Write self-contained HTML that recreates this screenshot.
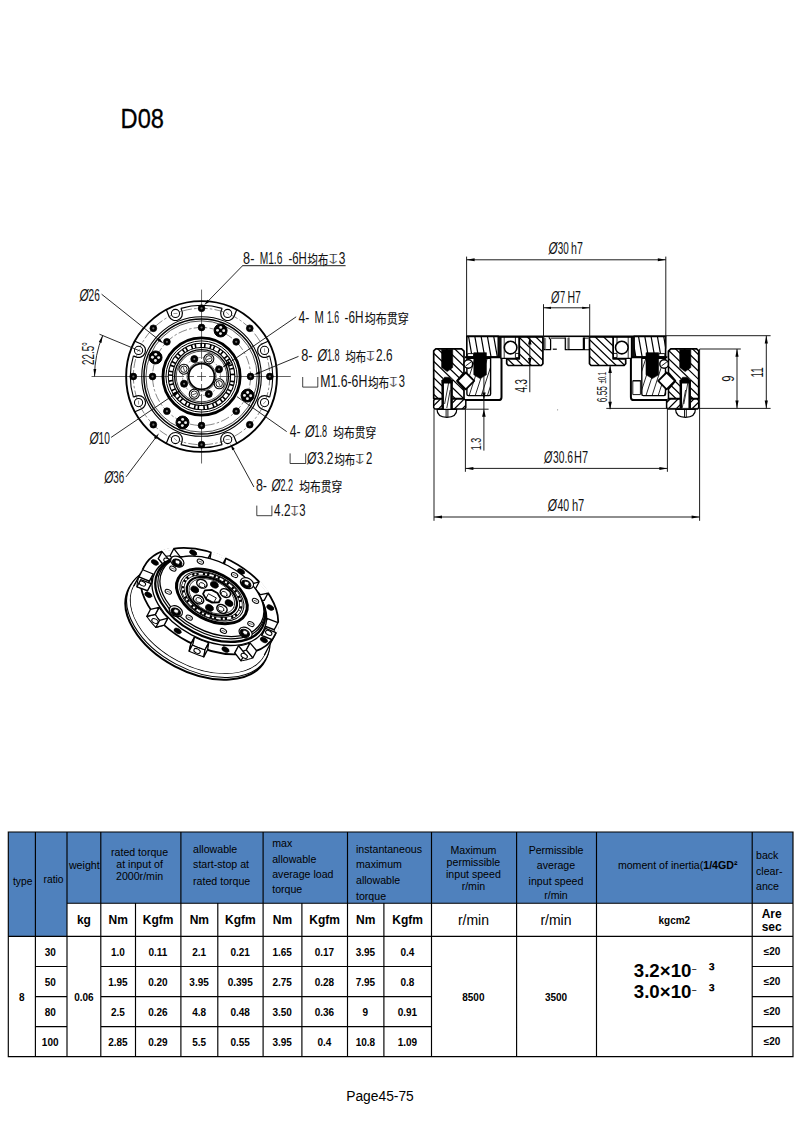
<!DOCTYPE html>
<html lang="en">
<head>
<meta charset="utf-8">
<title>D08</title>
<style>
html, body { margin: 0; padding: 0; background: #fff; }
body { width: 794px; height: 1123px; overflow: hidden; font-family: "Liberation Sans", "Noto Sans CJK SC", sans-serif; }
svg { display: block; position: absolute; left: 0; top: 0; }
</style>
</head>
<body>
<svg width="794" height="1123" viewBox="0 0 794 1123">
<g font-family="'Liberation Sans', 'Noto Sans CJK SC', sans-serif" fill="#000">
<text x="120.6" y="128.3" font-size="27.4" stroke="#000" stroke-width="0.3" textLength="43.4" lengthAdjust="spacingAndGlyphs">D08</text>
<text x="346.2" y="1101.4" font-size="14" textLength="67.6" lengthAdjust="spacingAndGlyphs">Page45-75</text>
</g>
<path d="M8.3 832.0H793.0V903.2H67.0V936.4H8.3Z" fill="#4f81bd"/>
<path d="M7.700000000000001 832.0H793.6 M7.700000000000001 1056.6H793.6 M8.3 832.0V1056.6 M793.0 832.0V1056.6 M67.0 903.2H793.0 M8.3 936.4H793.0 M35.4 832.0V1056.6 M67.0 832.0V1056.6 M100.8 832.0V1056.6 M180.9 832.0V1056.6 M263.1 832.0V1056.6 M347.5 832.0V1056.6 M431.5 832.0V1056.6 M516.6 832.0V1056.6 M596.5 832.0V1056.6 M752.2 832.0V1056.6 M135.5 903.2V1056.6 M217.8 903.2V1056.6 M301.9 903.2V1056.6 M383.9 903.2V1056.6 M35.4 966.5H67.0 M100.8 966.5H431.5 M752.2 966.5H793.0 M35.4 996.6H67.0 M100.8 996.6H431.5 M752.2 996.6H793.0 M35.4 1026.6H67.0 M100.8 1026.6H431.5 M752.2 1026.6H793.0" stroke="#000" stroke-width="1.15" fill="none"/>
<g font-family="'Liberation Sans', Arial, sans-serif" fill="#000">
<text x="22.7" y="884.7" font-size="10.25" font-weight="normal" text-anchor="middle" >type</text>
<text x="53.6" y="883.0" font-size="10.25" font-weight="normal" text-anchor="middle" >ratio</text>
<text x="84.3" y="868.6" font-size="10.67" font-weight="normal" text-anchor="middle" >weight</text>
<text x="139.6" y="855.6" font-size="10.6" font-weight="normal" text-anchor="middle" >rated torque</text>
<text x="139.6" y="868.0" font-size="10.6" font-weight="normal" text-anchor="middle" >at input of</text>
<text x="139.6" y="879.7" font-size="10.6" font-weight="normal" text-anchor="middle" >2000r/min</text>
<text x="193.1" y="852.7" font-size="10.6" font-weight="normal" text-anchor="start" >allowable</text>
<text x="193.1" y="867.9" font-size="10.6" font-weight="normal" text-anchor="start" >start-stop at</text>
<text x="193.1" y="885.0" font-size="10.6" font-weight="normal" text-anchor="start" >rated torque</text>
<text x="272.2" y="847.0" font-size="10.6" font-weight="normal" text-anchor="start" >max</text>
<text x="272.2" y="862.6" font-size="10.6" font-weight="normal" text-anchor="start" >allowable</text>
<text x="272.2" y="877.9" font-size="10.6" font-weight="normal" text-anchor="start" >average load</text>
<text x="272.2" y="892.6" font-size="10.6" font-weight="normal" text-anchor="start" >torque</text>
<text x="356.0" y="852.7" font-size="10.6" font-weight="normal" text-anchor="start" >instantaneous</text>
<text x="356.0" y="867.9" font-size="10.6" font-weight="normal" text-anchor="start" >maximum</text>
<text x="356.0" y="883.7" font-size="10.6" font-weight="normal" text-anchor="start" >allowable</text>
<text x="356.0" y="900.0" font-size="10.6" font-weight="normal" text-anchor="start" >torque</text>
<text x="473.4" y="854.0" font-size="10.6" font-weight="normal" text-anchor="middle" >Maximum</text>
<text x="473.4" y="866.0" font-size="10.6" font-weight="normal" text-anchor="middle" >permissible</text>
<text x="473.4" y="877.9" font-size="10.6" font-weight="normal" text-anchor="middle" >input speed</text>
<text x="473.4" y="889.8" font-size="10.6" font-weight="normal" text-anchor="middle" >r/min</text>
<text x="556.0" y="854.0" font-size="10.6" font-weight="normal" text-anchor="middle" >Permissible</text>
<text x="556.0" y="869.2" font-size="10.6" font-weight="normal" text-anchor="middle" >average</text>
<text x="556.0" y="885.0" font-size="10.6" font-weight="normal" text-anchor="middle" >input speed</text>
<text x="556.0" y="899.3" font-size="10.6" font-weight="normal" text-anchor="middle" >r/min</text>
<text x="617.9" y="868.6" font-size="10.6" text-anchor="start">moment of inertia(<tspan font-weight="bold">1/4GD²</tspan></text>
<text x="756.0" y="859.0" font-size="10.6" font-weight="normal" text-anchor="start" >back</text>
<text x="756.0" y="874.7" font-size="10.6" font-weight="normal" text-anchor="start" >clear-</text>
<text x="756.0" y="889.8" font-size="10.6" font-weight="normal" text-anchor="start" >ance</text>
<text x="83.9" y="924.0" font-size="12" font-weight="bold" text-anchor="middle" >kg</text>
<text x="118.15" y="924.0" font-size="12" font-weight="bold" text-anchor="middle" >Nm</text>
<text x="158.2" y="924.0" font-size="12" font-weight="bold" text-anchor="middle" >Kgfm</text>
<text x="199.35000000000002" y="924.0" font-size="12" font-weight="bold" text-anchor="middle" >Nm</text>
<text x="240.45000000000002" y="924.0" font-size="12" font-weight="bold" text-anchor="middle" >Kgfm</text>
<text x="282.5" y="924.0" font-size="12" font-weight="bold" text-anchor="middle" >Nm</text>
<text x="324.7" y="924.0" font-size="12" font-weight="bold" text-anchor="middle" >Kgfm</text>
<text x="365.7" y="924.0" font-size="12" font-weight="bold" text-anchor="middle" >Nm</text>
<text x="407.7" y="924.0" font-size="12" font-weight="bold" text-anchor="middle" >Kgfm</text>
<text x="473.45" y="924.6" font-size="14" font-weight="normal" text-anchor="middle" >r/min</text>
<text x="555.9499999999999" y="924.6" font-size="14" font-weight="normal" text-anchor="middle" >r/min</text>
<text x="674.35" y="923.8" font-size="10" font-weight="bold" text-anchor="middle" >kgcm2</text>
<text x="771.7" y="918.4" font-size="12" font-weight="bold" text-anchor="middle" >Are</text>
<text x="771.7" y="931.2" font-size="12" font-weight="bold" text-anchor="middle" >sec</text>
<text x="50.2" y="955.6" font-size="10" font-weight="bold" text-anchor="middle" >30</text>
<text x="117.9" y="955.6" font-size="10" font-weight="bold" text-anchor="middle" >1.0</text>
<text x="157.9" y="955.6" font-size="10" font-weight="bold" text-anchor="middle" >0.11</text>
<text x="199.1" y="955.6" font-size="10" font-weight="bold" text-anchor="middle" >2.1</text>
<text x="240.2" y="955.6" font-size="10" font-weight="bold" text-anchor="middle" >0.21</text>
<text x="282.2" y="955.6" font-size="10" font-weight="bold" text-anchor="middle" >1.65</text>
<text x="324.4" y="955.6" font-size="10" font-weight="bold" text-anchor="middle" >0.17</text>
<text x="365.4" y="955.6" font-size="10" font-weight="bold" text-anchor="middle" >3.95</text>
<text x="407.4" y="955.6" font-size="10" font-weight="bold" text-anchor="middle" >0.4</text>
<text x="772.1" y="954.7" font-size="10" font-weight="bold" text-anchor="middle" >≤20</text>
<text x="50.2" y="985.6" font-size="10" font-weight="bold" text-anchor="middle" >50</text>
<text x="117.9" y="985.6" font-size="10" font-weight="bold" text-anchor="middle" >1.95</text>
<text x="157.9" y="985.6" font-size="10" font-weight="bold" text-anchor="middle" >0.20</text>
<text x="199.1" y="985.6" font-size="10" font-weight="bold" text-anchor="middle" >3.95</text>
<text x="240.2" y="985.6" font-size="10" font-weight="bold" text-anchor="middle" >0.395</text>
<text x="282.2" y="985.6" font-size="10" font-weight="bold" text-anchor="middle" >2.75</text>
<text x="324.4" y="985.6" font-size="10" font-weight="bold" text-anchor="middle" >0.28</text>
<text x="365.4" y="985.6" font-size="10" font-weight="bold" text-anchor="middle" >7.95</text>
<text x="407.4" y="985.6" font-size="10" font-weight="bold" text-anchor="middle" >0.8</text>
<text x="772.1" y="984.8" font-size="10" font-weight="bold" text-anchor="middle" >≤20</text>
<text x="50.2" y="1015.7" font-size="10" font-weight="bold" text-anchor="middle" >80</text>
<text x="117.9" y="1015.7" font-size="10" font-weight="bold" text-anchor="middle" >2.5</text>
<text x="157.9" y="1015.7" font-size="10" font-weight="bold" text-anchor="middle" >0.26</text>
<text x="199.1" y="1015.7" font-size="10" font-weight="bold" text-anchor="middle" >4.8</text>
<text x="240.2" y="1015.7" font-size="10" font-weight="bold" text-anchor="middle" >0.48</text>
<text x="282.2" y="1015.7" font-size="10" font-weight="bold" text-anchor="middle" >3.50</text>
<text x="324.4" y="1015.7" font-size="10" font-weight="bold" text-anchor="middle" >0.36</text>
<text x="365.4" y="1015.7" font-size="10" font-weight="bold" text-anchor="middle" >9</text>
<text x="407.4" y="1015.7" font-size="10" font-weight="bold" text-anchor="middle" >0.91</text>
<text x="772.1" y="1014.8" font-size="10" font-weight="bold" text-anchor="middle" >≤20</text>
<text x="50.2" y="1045.7" font-size="10" font-weight="bold" text-anchor="middle" >100</text>
<text x="117.9" y="1045.7" font-size="10" font-weight="bold" text-anchor="middle" >2.85</text>
<text x="157.9" y="1045.7" font-size="10" font-weight="bold" text-anchor="middle" >0.29</text>
<text x="199.1" y="1045.7" font-size="10" font-weight="bold" text-anchor="middle" >5.5</text>
<text x="240.2" y="1045.7" font-size="10" font-weight="bold" text-anchor="middle" >0.55</text>
<text x="282.2" y="1045.7" font-size="10" font-weight="bold" text-anchor="middle" >3.95</text>
<text x="324.4" y="1045.7" font-size="10" font-weight="bold" text-anchor="middle" >0.4</text>
<text x="365.4" y="1045.7" font-size="10" font-weight="bold" text-anchor="middle" >10.8</text>
<text x="407.4" y="1045.7" font-size="10" font-weight="bold" text-anchor="middle" >1.09</text>
<text x="772.1" y="1044.8" font-size="10" font-weight="bold" text-anchor="middle" >≤20</text>
<text x="21.85" y="1000.6" font-size="10" font-weight="bold" text-anchor="middle" >8</text>
<text x="83.9" y="1000.6" font-size="10" font-weight="bold" text-anchor="middle" >0.06</text>
<text x="473.35" y="1000.6" font-size="10" font-weight="bold" text-anchor="middle" >8500</text>
<text x="556.05" y="1000.6" font-size="10" font-weight="bold" text-anchor="middle" >3500</text>
<text x="633.8" y="977.2" font-size="18.67" font-weight="bold" text-anchor="start">3.2×10<tspan x="691.2" dy="-2.2" font-family="'DejaVu Sans', sans-serif" font-size="11">⁻</tspan><tspan dy="2.2" font-size="1"> </tspan><tspan x="708.6">³</tspan></text>
<text x="633.8" y="998.3" font-size="18.67" font-weight="bold" text-anchor="start">3.0×10<tspan x="691.2" dy="-2.2" font-family="'DejaVu Sans', sans-serif" font-size="11">⁻</tspan><tspan dy="2.2" font-size="1"> </tspan><tspan x="708.6">³</tspan></text>
</g>
<g stroke="#000" fill="none" stroke-linecap="butt">
<path d="M91.55 376.5H184.05M187.05 376.5H194.05M197.05 376.5H206.05M209.05 376.5H216.05M219.05 376.5H290.75" stroke="#222" stroke-width="0.7"/>
<path d="M201.55 289.6V359M201.55 362V369M201.55 372V381M201.55 384V391M201.55 394V463.5" stroke="#222" stroke-width="0.7"/>
<circle cx="201.55" cy="376.5" r="75.4" stroke-width="1.9" fill="none" />
<path d="M269.69 397.15A71.2 71.2 0 0 0 269.69 355.85 M222.2 308.36A71.2 71.2 0 0 0 180.9 308.36 M133.41 355.85A71.2 71.2 0 0 0 133.41 397.15 M180.9 444.64A71.2 71.2 0 0 0 222.2 444.64" stroke-width="1.1"/>
<path d="M269.69 355.85L267.24 356.87A7 7 0 0 1 261.88 343.93L268.23 341.3" stroke-width="1.2"/>
<path d="M236.75 309.82L234.12 316.17A7 7 0 0 1 221.18 310.81L222.2 308.36" stroke-width="1.2"/>
<path d="M180.9 308.36L181.92 310.81A7 7 0 0 1 168.98 316.17L166.35 309.82" stroke-width="1.2"/>
<path d="M134.87 341.3L141.22 343.93A7 7 0 0 1 135.86 356.87L133.41 355.85" stroke-width="1.2"/>
<path d="M133.41 397.15L135.86 396.13A7 7 0 0 1 141.22 409.07L134.87 411.7" stroke-width="1.2"/>
<path d="M166.35 443.18L168.98 436.83A7 7 0 0 1 181.92 442.19L180.9 444.64" stroke-width="1.2"/>
<path d="M222.2 444.64L221.18 442.19A7 7 0 0 1 234.12 436.83L236.75 443.18" stroke-width="1.2"/>
<path d="M268.23 411.7L261.88 409.07A7 7 0 0 1 267.24 396.13L269.69 397.15" stroke-width="1.2"/>
<circle cx="201.55" cy="376.5" r="68.2" stroke-width="0.55" fill="none" stroke-dasharray="9 2.2 2.5 2.2" stroke="#222"/>
<circle cx="201.55" cy="376.5" r="59.8" stroke-width="1.1" fill="none" />
<circle cx="201.55" cy="376.5" r="57.6" stroke-width="1.5" fill="none" />
<circle cx="201.55" cy="376.5" r="55.6" stroke-width="0.7" fill="none" />
<circle cx="201.55" cy="376.5" r="49" stroke-width="0.55" fill="none" stroke-dasharray="9 2.2 2.5 2.2" stroke="#222"/>
<circle cx="201.55" cy="376.5" r="38.6" stroke-width="2.8" fill="none" />
<circle cx="201.55" cy="376.5" r="35.6" stroke-width="1.0" fill="none" />
<circle cx="201.55" cy="376.5" r="31.1" stroke-width="5.4" fill="none" />
<circle cx="201.55" cy="376.5" r="31.1" stroke-width="3.2" fill="none" stroke="#fff" stroke-dasharray="4.2 1.6 2 1.6"/>
<circle cx="201.55" cy="376.5" r="26.9" stroke-width="1.4" fill="none" />
<circle cx="201.55" cy="376.5" r="25.3" stroke-width="0.7" fill="none" />
<circle cx="201.55" cy="376.5" r="19" stroke-width="0.5" fill="none" stroke-dasharray="3 2" stroke="#333"/>
<circle cx="201.55" cy="376.5" r="12.9" stroke-width="1.8" fill="none" />
<circle cx="201.55" cy="376.5" r="14.6" stroke-width="0.7" fill="none" />
<circle cx="208.86" cy="358.85" r="5" stroke-width="1.1" fill="#fff" />
<circle cx="208.86" cy="358.85" r="3.2" stroke-width="0.9" fill="#fff" />
<path d="M206.79 359.61L210.93 358.1" stroke-width="0.7" />
<circle cx="194.32" cy="359.04" r="3.5" stroke-width="0.9" fill="#000" />
<circle cx="194.32" cy="359.04" r="1" stroke-width="0" fill="#777" stroke="none"/>
<circle cx="183.9" cy="369.19" r="5" stroke-width="1.1" fill="#fff" />
<circle cx="183.9" cy="369.19" r="3.2" stroke-width="0.9" fill="#fff" />
<path d="M184.66 371.26L183.15 367.12" stroke-width="0.7" />
<circle cx="184.09" cy="383.73" r="3.5" stroke-width="0.9" fill="#000" />
<circle cx="184.09" cy="383.73" r="1" stroke-width="0" fill="#777" stroke="none"/>
<circle cx="194.24" cy="394.15" r="5" stroke-width="1.1" fill="#fff" />
<circle cx="194.24" cy="394.15" r="3.2" stroke-width="0.9" fill="#fff" />
<path d="M196.31 393.39L192.17 394.9" stroke-width="0.7" />
<circle cx="208.78" cy="393.96" r="3.5" stroke-width="0.9" fill="#000" />
<circle cx="208.78" cy="393.96" r="1" stroke-width="0" fill="#777" stroke="none"/>
<circle cx="219.2" cy="383.81" r="5" stroke-width="1.1" fill="#fff" />
<circle cx="219.2" cy="383.81" r="3.2" stroke-width="0.9" fill="#fff" />
<path d="M218.44 381.74L219.95 385.88" stroke-width="0.7" />
<circle cx="219.01" cy="369.27" r="3.5" stroke-width="0.9" fill="#000" />
<circle cx="219.01" cy="369.27" r="1" stroke-width="0" fill="#777" stroke="none"/>
<circle cx="250.55" cy="376.5" r="3.4" stroke-width="0.7" fill="#000" />
<circle cx="250.55" cy="376.5" r="1.1" stroke-width="0" fill="#6a6a6a" stroke="none"/>
<circle cx="236.2" cy="341.85" r="3.4" stroke-width="0.7" fill="#000" />
<circle cx="236.2" cy="341.85" r="1.1" stroke-width="0" fill="#6a6a6a" stroke="none"/>
<circle cx="201.55" cy="327.5" r="3.4" stroke-width="0.7" fill="#000" />
<circle cx="201.55" cy="327.5" r="1.1" stroke-width="0" fill="#6a6a6a" stroke="none"/>
<circle cx="166.9" cy="341.85" r="3.4" stroke-width="0.7" fill="#000" />
<circle cx="166.9" cy="341.85" r="1.1" stroke-width="0" fill="#6a6a6a" stroke="none"/>
<circle cx="152.55" cy="376.5" r="3.4" stroke-width="0.7" fill="#000" />
<circle cx="152.55" cy="376.5" r="1.1" stroke-width="0" fill="#6a6a6a" stroke="none"/>
<circle cx="166.9" cy="411.15" r="3.4" stroke-width="0.7" fill="#000" />
<circle cx="166.9" cy="411.15" r="1.1" stroke-width="0" fill="#6a6a6a" stroke="none"/>
<circle cx="201.55" cy="425.5" r="3.4" stroke-width="0.7" fill="#000" />
<circle cx="201.55" cy="425.5" r="1.1" stroke-width="0" fill="#6a6a6a" stroke="none"/>
<circle cx="236.2" cy="411.15" r="3.4" stroke-width="0.7" fill="#000" />
<circle cx="236.2" cy="411.15" r="1.1" stroke-width="0" fill="#6a6a6a" stroke="none"/>
<circle cx="269.75" cy="376.5" r="3.4" stroke-width="0.7" fill="#000" />
<circle cx="269.75" cy="376.5" r="1.1" stroke-width="0" fill="#6a6a6a" stroke="none"/>
<circle cx="249.77" cy="328.28" r="3.4" stroke-width="0.7" fill="#000" />
<circle cx="249.77" cy="328.28" r="1.1" stroke-width="0" fill="#6a6a6a" stroke="none"/>
<circle cx="201.55" cy="308.3" r="3.4" stroke-width="0.7" fill="#000" />
<circle cx="201.55" cy="308.3" r="1.1" stroke-width="0" fill="#6a6a6a" stroke="none"/>
<circle cx="153.33" cy="328.28" r="3.4" stroke-width="0.7" fill="#000" />
<circle cx="153.33" cy="328.28" r="1.1" stroke-width="0" fill="#6a6a6a" stroke="none"/>
<circle cx="133.35" cy="376.5" r="3.4" stroke-width="0.7" fill="#000" />
<circle cx="133.35" cy="376.5" r="1.1" stroke-width="0" fill="#6a6a6a" stroke="none"/>
<circle cx="153.33" cy="424.72" r="3.4" stroke-width="0.7" fill="#000" />
<circle cx="153.33" cy="424.72" r="1.1" stroke-width="0" fill="#6a6a6a" stroke="none"/>
<circle cx="201.55" cy="444.7" r="3.4" stroke-width="0.7" fill="#000" />
<circle cx="201.55" cy="444.7" r="1.1" stroke-width="0" fill="#6a6a6a" stroke="none"/>
<circle cx="249.77" cy="424.72" r="3.4" stroke-width="0.7" fill="#000" />
<circle cx="249.77" cy="424.72" r="1.1" stroke-width="0" fill="#6a6a6a" stroke="none"/>
<circle cx="264.56" cy="350.4" r="4.1" stroke-width="1.05" fill="#fff" />
<path d="M264.65 352.4L264.47 348.4" stroke-width="0.5" stroke="#333"/>
<circle cx="227.65" cy="313.49" r="4.1" stroke-width="1.05" fill="#fff" />
<path d="M229.12 314.84L226.17 312.14" stroke-width="0.5" stroke="#333"/>
<circle cx="175.45" cy="313.49" r="4.1" stroke-width="1.05" fill="#fff" />
<path d="M177.45 313.4L173.45 313.58" stroke-width="0.5" stroke="#333"/>
<circle cx="138.54" cy="350.4" r="4.1" stroke-width="1.05" fill="#fff" />
<path d="M139.89 348.93L137.19 351.88" stroke-width="0.5" stroke="#333"/>
<circle cx="138.54" cy="402.6" r="4.1" stroke-width="1.05" fill="#fff" />
<path d="M138.45 400.6L138.63 404.6" stroke-width="0.5" stroke="#333"/>
<circle cx="175.45" cy="439.51" r="4.1" stroke-width="1.05" fill="#fff" />
<path d="M173.98 438.16L176.93 440.86" stroke-width="0.5" stroke="#333"/>
<circle cx="227.65" cy="439.51" r="4.1" stroke-width="1.05" fill="#fff" />
<path d="M225.65 439.6L229.65 439.42" stroke-width="0.5" stroke="#333"/>
<circle cx="264.56" cy="402.6" r="4.1" stroke-width="1.05" fill="#fff" />
<path d="M263.21 404.07L265.91 401.12" stroke-width="0.5" stroke="#333"/>
<circle cx="220.61" cy="330.49" r="6.5" stroke-width="1.0" fill="#000" />
<circle cx="220.74" cy="327.39" r="1.45" stroke-width="0" fill="#eee" stroke="none"/>
<circle cx="217.51" cy="330.36" r="1.45" stroke-width="0" fill="#eee" stroke="none"/>
<circle cx="220.47" cy="333.59" r="1.45" stroke-width="0" fill="#eee" stroke="none"/>
<circle cx="223.7" cy="330.63" r="1.45" stroke-width="0" fill="#eee" stroke="none"/>
<circle cx="155.54" cy="357.44" r="6.5" stroke-width="1.0" fill="#000" />
<circle cx="152.44" cy="357.31" r="1.45" stroke-width="0" fill="#eee" stroke="none"/>
<circle cx="155.41" cy="360.54" r="1.45" stroke-width="0" fill="#eee" stroke="none"/>
<circle cx="158.64" cy="357.58" r="1.45" stroke-width="0" fill="#eee" stroke="none"/>
<circle cx="155.68" cy="354.35" r="1.45" stroke-width="0" fill="#eee" stroke="none"/>
<circle cx="182.49" cy="422.51" r="6.5" stroke-width="1.0" fill="#000" />
<circle cx="182.36" cy="425.61" r="1.45" stroke-width="0" fill="#eee" stroke="none"/>
<circle cx="185.59" cy="422.64" r="1.45" stroke-width="0" fill="#eee" stroke="none"/>
<circle cx="182.63" cy="419.41" r="1.45" stroke-width="0" fill="#eee" stroke="none"/>
<circle cx="179.4" cy="422.37" r="1.45" stroke-width="0" fill="#eee" stroke="none"/>
<circle cx="247.56" cy="395.56" r="6.5" stroke-width="1.0" fill="#000" />
<circle cx="250.66" cy="395.69" r="1.45" stroke-width="0" fill="#eee" stroke="none"/>
<circle cx="247.69" cy="392.46" r="1.45" stroke-width="0" fill="#eee" stroke="none"/>
<circle cx="244.46" cy="395.42" r="1.45" stroke-width="0" fill="#eee" stroke="none"/>
<circle cx="247.42" cy="398.65" r="1.45" stroke-width="0" fill="#eee" stroke="none"/>
<g stroke="#111" stroke-width="0.9">
<path d="M206.81 302.42L242.6 265.7" stroke-width="0.9" /><path d="M204.3 305L209.49 301.68L207.48 299.73Z" fill="#000" stroke="none"/>
<path d="M242.3 265.7L345.6 265.7" stroke-width="0.95" />
<path d="M160.55 341.17L101.6 294.2" stroke-width="0.9" /><path d="M163.6 343.6L159.39 338.45L157.64 340.64Z" fill="#000" stroke="none"/>
<path d="M140.57 351.24L99.46 334.21" stroke-width="0.9" />
<path d="M102.69 335.55A107 107 0 0 0 94.55 376.5" stroke-width="0.9"/>
<path d="M102.69 335.55L98.81 342.12L101.45 343.08Z" fill="#000" stroke="none"/>
<path d="M94.55 376.5L96.28 369.07L93.48 368.95Z" fill="#000" stroke="none"/>
<path d="M226.7 364.48L296.2 316.8" stroke-width="0.9" /><path d="M222 367.7L230.91 363.89L228.76 360.76Z" fill="#000" stroke="none"/>
<path d="M257.4 373.41L298.5 356.4" stroke-width="0.9" /><path d="M253.8 374.9L260.34 373.71L259.27 371.12Z" fill="#000" stroke="none"/>
<path d="M236.9 396.6L286.7 431.6" stroke-width="0.9" />
<path d="M232.27 447.32L253.9 487" stroke-width="0.9" /><path d="M230.4 443.9L232.28 450.28L234.74 448.94Z" fill="#000" stroke="none"/>
<path d="M176.28 393.2L111.1 437.4" stroke-width="0.9" /><path d="M181 390L172.07 393.76L174.2 396.9Z" fill="#000" stroke="none"/>
<path d="M156.65 436.41L126 476.9" stroke-width="0.9" /><path d="M159 433.3L153.96 437.64L156.19 439.33Z" fill="#000" stroke="none"/>
</g>
</g>
<g fill="#111">
<text x="243.1" y="263.9" font-family="'Liberation Sans', sans-serif" font-size="15.6" textLength="11.3" lengthAdjust="spacingAndGlyphs" >8-</text>
<text x="259.7" y="263.9" font-family="'Liberation Sans', sans-serif" font-size="15.6" textLength="22.7" lengthAdjust="spacingAndGlyphs" >M1.6</text>
<text x="288.4" y="263.9" font-family="'Liberation Sans', sans-serif" font-size="15.6" textLength="18.4" lengthAdjust="spacingAndGlyphs" >-6H</text>
<text x="307.6" y="263.8" font-family="'Liberation Sans', 'Noto Sans CJK SC', sans-serif" font-size="12.9" textLength="20.6" lengthAdjust="spacingAndGlyphs" stroke="#111" stroke-width="0.15">均布</text>
<text transform="translate(325.32 263.9) scale(1.9 1.39)" font-family="'DejaVu Sans', 'Liberation Sans', sans-serif" font-size="10" fill="#222" stroke="#fff" stroke-width="0.28">↧</text>
<text x="338.8" y="263.9" font-family="'Liberation Sans', sans-serif" font-size="15.6" textLength="6.6" lengthAdjust="spacingAndGlyphs" >3</text>
<text x="298.5" y="322.6" font-family="'Liberation Sans', sans-serif" font-size="15.6" textLength="10.8" lengthAdjust="spacingAndGlyphs" >4-</text>
<text x="314.4" y="322.6" font-family="'Liberation Sans', sans-serif" font-size="15.6" textLength="9.3" lengthAdjust="spacingAndGlyphs" >M</text>
<text x="327" y="322.6" font-family="'Liberation Sans', sans-serif" font-size="15.6" textLength="12.1" lengthAdjust="spacingAndGlyphs" >1.6</text>
<text x="344.6" y="322.6" font-family="'Liberation Sans', sans-serif" font-size="15.6" textLength="18.9" lengthAdjust="spacingAndGlyphs" >-6H</text>
<text x="364.8" y="322.5" font-family="'Liberation Sans', 'Noto Sans CJK SC', sans-serif" font-size="12.9" textLength="44" lengthAdjust="spacingAndGlyphs" stroke="#111" stroke-width="0.15">均布贯穿</text>
<text x="301.3" y="360.9" font-family="'Liberation Sans', sans-serif" font-size="15.6" textLength="11.3" lengthAdjust="spacingAndGlyphs" >8-</text>
<text x="317.6" y="360.9" font-family="'Liberation Sans', sans-serif" font-size="15.6" textLength="9.6" lengthAdjust="spacingAndGlyphs" font-style="italic">Ø</text>
<text x="327" y="360.9" font-family="'Liberation Sans', sans-serif" font-size="15.6" textLength="12.6" lengthAdjust="spacingAndGlyphs" >1.8</text>
<text x="345.4" y="360.8" font-family="'Liberation Sans', 'Noto Sans CJK SC', sans-serif" font-size="12.9" textLength="20.6" lengthAdjust="spacingAndGlyphs" stroke="#111" stroke-width="0.15">均布</text>
<text transform="translate(362.79 360.9) scale(1.83 1.39)" font-family="'DejaVu Sans', 'Liberation Sans', sans-serif" font-size="10" fill="#222" stroke="#fff" stroke-width="0.28">↧</text>
<text x="376.1" y="360.9" font-family="'Liberation Sans', sans-serif" font-size="15.6" textLength="16.4" lengthAdjust="spacingAndGlyphs" >2.6</text>
<path d="M302.7 377V387.1H317.8V377" fill="none" stroke="#111" stroke-width="0.8"/>
<text x="320.2" y="387.4" font-family="'Liberation Sans', sans-serif" font-size="15.6" textLength="47.1" lengthAdjust="spacingAndGlyphs" >M1.6-6H</text>
<text x="368" y="387.3" font-family="'Liberation Sans', 'Noto Sans CJK SC', sans-serif" font-size="12.9" textLength="21.2" lengthAdjust="spacingAndGlyphs" stroke="#111" stroke-width="0.15">均布</text>
<text transform="translate(386.26 387.4) scale(1.7 1.39)" font-family="'DejaVu Sans', 'Liberation Sans', sans-serif" font-size="10" fill="#222" stroke="#fff" stroke-width="0.28">↧</text>
<text x="398.8" y="387.4" font-family="'Liberation Sans', sans-serif" font-size="15.6" textLength="6.2" lengthAdjust="spacingAndGlyphs" >3</text>
<text x="289.7" y="436.6" font-family="'Liberation Sans', sans-serif" font-size="15.6" textLength="10.8" lengthAdjust="spacingAndGlyphs" >4-</text>
<text x="305" y="436.6" font-family="'Liberation Sans', sans-serif" font-size="15.6" textLength="9.6" lengthAdjust="spacingAndGlyphs" font-style="italic">Ø</text>
<text x="314.4" y="436.6" font-family="'Liberation Sans', sans-serif" font-size="15.6" textLength="12.6" lengthAdjust="spacingAndGlyphs" >1.8</text>
<text x="333.3" y="436.5" font-family="'Liberation Sans', 'Noto Sans CJK SC', sans-serif" font-size="12.9" textLength="42.8" lengthAdjust="spacingAndGlyphs" stroke="#111" stroke-width="0.15">均布贯穿</text>
<path d="M290.1 453.4V463.5H305.7V453.4" fill="none" stroke="#111" stroke-width="0.8"/>
<text x="307" y="463.8" font-family="'Liberation Sans', sans-serif" font-size="15.6" textLength="9.3" lengthAdjust="spacingAndGlyphs" font-style="italic">Ø</text>
<text x="316.9" y="463.8" font-family="'Liberation Sans', sans-serif" font-size="15.6" textLength="16.4" lengthAdjust="spacingAndGlyphs" >3.2</text>
<text x="334.5" y="463.7" font-family="'Liberation Sans', 'Noto Sans CJK SC', sans-serif" font-size="12.9" textLength="20.7" lengthAdjust="spacingAndGlyphs" stroke="#111" stroke-width="0.15">均布</text>
<text transform="translate(351.72 463.8) scale(1.9 1.39)" font-family="'DejaVu Sans', 'Liberation Sans', sans-serif" font-size="10" fill="#222" stroke="#fff" stroke-width="0.28">↧</text>
<text x="366" y="463.8" font-family="'Liberation Sans', sans-serif" font-size="15.6" textLength="6.3" lengthAdjust="spacingAndGlyphs" >2</text>
<text x="255.9" y="491.3" font-family="'Liberation Sans', sans-serif" font-size="15.6" textLength="11.1" lengthAdjust="spacingAndGlyphs" >8-</text>
<text x="271.5" y="491.3" font-family="'Liberation Sans', sans-serif" font-size="15.6" textLength="9.1" lengthAdjust="spacingAndGlyphs" font-style="italic">Ø</text>
<text x="280.4" y="491.3" font-family="'Liberation Sans', sans-serif" font-size="15.6" textLength="12.6" lengthAdjust="spacingAndGlyphs" >2.2</text>
<text x="299.3" y="491.2" font-family="'Liberation Sans', 'Noto Sans CJK SC', sans-serif" font-size="12.9" textLength="42.8" lengthAdjust="spacingAndGlyphs" stroke="#111" stroke-width="0.15">均布贯穿</text>
<path d="M256.8 505.6V515.7H271.9V505.6" fill="none" stroke="#111" stroke-width="0.8"/>
<text x="274.1" y="516" font-family="'Liberation Sans', sans-serif" font-size="15.6" textLength="16.4" lengthAdjust="spacingAndGlyphs" >4.2</text>
<text transform="translate(287.46 516) scale(1.7 1.39)" font-family="'DejaVu Sans', 'Liberation Sans', sans-serif" font-size="10" fill="#222" stroke="#fff" stroke-width="0.28">↧</text>
<text x="299.3" y="516" font-family="'Liberation Sans', sans-serif" font-size="15.6" textLength="6.3" lengthAdjust="spacingAndGlyphs" >3</text>
<text x="79.6" y="301" font-family="'Liberation Sans', sans-serif" font-size="15.6" textLength="9.2" lengthAdjust="spacingAndGlyphs" font-style="italic">Ø</text>
<text x="88.6" y="301" font-family="'Liberation Sans', sans-serif" font-size="15.6" textLength="11.2" lengthAdjust="spacingAndGlyphs" >26</text>
<text x="89.6" y="443.7" font-family="'Liberation Sans', sans-serif" font-size="15.6" textLength="9.2" lengthAdjust="spacingAndGlyphs" font-style="italic">Ø</text>
<text x="98.6" y="443.7" font-family="'Liberation Sans', sans-serif" font-size="15.6" textLength="11.3" lengthAdjust="spacingAndGlyphs" >10</text>
<text x="104.2" y="482.7" font-family="'Liberation Sans', sans-serif" font-size="15.6" textLength="9.2" lengthAdjust="spacingAndGlyphs" font-style="italic">Ø</text>
<text x="113.2" y="482.7" font-family="'Liberation Sans', sans-serif" font-size="15.6" textLength="11" lengthAdjust="spacingAndGlyphs" >36</text>
<g transform="translate(94.0 364.9) rotate(-90)"><text x="0" y="0" font-family="'Liberation Sans', sans-serif" font-size="15.6" textLength="22.9" lengthAdjust="spacingAndGlyphs" >22.5°</text></g>
</g>
<g stroke="#000" fill="none" stroke-linejoin="round">
<path d="M433.7 350.8L435.8 348.8L461.6 348.8L464 351.2L464 372.6L457 380.9L464 389.2L464 398.6L433.7 398.6Z" fill="#fff" stroke-width="0" />
<clipPath id="hc1"><path d="M433.7 350.8L435.8 348.8L461.6 348.8L464 351.2L464 372.6L457 380.9L464 389.2L464 398.6L433.7 398.6Z"/></clipPath><path d="M450.59 328.5L493.96 370.39M446.49 332.75L489.86 374.63M442.39 336.99L485.76 378.87M438.29 341.23L481.66 383.12M434.19 345.48L477.57 387.36M430.1 349.72L473.47 391.61M426 353.97L469.37 395.85M421.9 358.21L465.27 400.09M417.8 362.46L461.17 404.34M413.7 366.7L457.07 408.58M409.6 370.94L452.97 412.83M405.5 375.19L448.88 417.07" clip-path="url(#hc1)" stroke-width="1.25" fill="none"/>
<path d="M433.7 350.8L435.8 348.8L461.6 348.8L464 351.2L464 372.6L457 380.9L464 389.2L464 398.6L433.7 398.6Z" fill="none" stroke-width="1.7" />
<path d="M441.6 349.4L452.7 349.4L452.7 367.6L447.2 371.6L441.6 367.6Z" fill="#000" stroke-width="0.6" />
<path d="M433.7 400.4L435 399.1L464.5 399.1L465.8 400.4L465.8 407.8L464.5 409.1L435 409.1L433.7 407.8Z" fill="#fff" stroke-width="0" />
<clipPath id="hc2"><path d="M433.7 400.4L435 399.1L464.5 399.1L465.8 400.4L465.8 407.8L464.5 409.1L435 409.1L433.7 407.8Z"/></clipPath><path d="M422.05 401.59L447.24 376.4M426.01 405.55L451.2 380.36M429.97 409.51L455.16 384.32M433.93 413.47L459.12 388.28M437.89 417.43L463.08 392.24M441.85 421.39L467.04 396.2M445.81 425.35L471 400.16M449.77 429.31L474.96 404.12" clip-path="url(#hc2)" stroke-width="1.25" fill="none"/>
<path d="M433.7 400.4L435 399.1L464.5 399.1L465.8 400.4L465.8 407.8L464.5 409.1L435 409.1L433.7 407.8Z" fill="none" stroke-width="1.5" />
<path d="M442 409.1L442 379.5L444.5 377.2L449.8 377.2L452.3 379.5L452.3 409.1Z" fill="#fff" stroke-width="0" />
<path d="M442 380.2L444.5 377.2L449.8 377.2L452.3 380.2L452.3 383.2L442 383.2Z" fill="#000" stroke-width="0.5" />
<path d="M442.7 409.1L442.7 380" fill="none" stroke-width="2.5" />
<path d="M451.6 409.1L451.6 380" fill="none" stroke-width="2.5" />
<path d="M444.6 404L448.6 383" stroke-width="0.8"/>
<path d="M446.8 408L450.2 390" stroke-width="0.8"/>
<path d="M437 409.3C437 415 440.46 417.3 446.9 417.3C453.33 417.3 456.8 415 456.8 409.3Z" fill="#fff" stroke-width="1.2"/>
<path d="M446.1 409.3L446.1 417" fill="none" stroke-width="0.9" />
<path d="M447.9 409.3L447.9 417" fill="none" stroke-width="0.9" />
<path d="M466.8 336.2L498.4 336.2L498.4 357L466.8 357Z" fill="#fff" stroke-width="0" />
<clipPath id="hc3"><path d="M466.8 336.2L498.4 336.2L498.4 357L466.8 357Z"/></clipPath><path d="M503.88 322.63L510.79 361.85M497.77 323.7L504.69 362.93M491.67 324.78L498.58 364M485.56 325.86L492.48 365.08M479.46 326.93L486.37 366.16M473.35 328.01L480.27 367.23M467.24 329.08L474.16 368.31M461.14 330.16L468.05 369.39M455.03 331.24L461.95 370.46" clip-path="url(#hc3)" stroke-width="1.2" fill="none"/>
<path d="M466.8 336.2L498.4 336.2L498.4 357L466.8 357Z" fill="none" stroke-width="1.6" />
<path d="M467.6 353.6L473.6 353.6L473.6 356.6L467.6 356.6Z" fill="#fff" stroke-width="0.9" />
<path d="M498.2 337L500.9 337L500.9 357.4L498.2 357.4Z" fill="#111" stroke-width="0.6" />
<path d="M465 357.3H501.5V397.2Q501.5 400.1 498.5 400.1H465" fill="#fff" stroke-width="2.0"/>
<clipPath id="hc4"><path d="M466.9 358.4H490.6V394.0Q490.6 395.6 489 395.6H468.5Q466.9 395.6 466.9 394.0Z"/></clipPath><path d="M446.31 390.7L460.56 346.85M451.83 392.49L466.08 348.64M457.34 394.29L471.59 350.43M462.86 396.08L477.11 352.23M468.38 397.87L482.62 354.02M473.89 399.66L488.14 355.81M479.41 401.45L493.66 357.6M484.92 403.25L499.17 359.4M490.44 405.04L504.69 361.19M495.96 406.83L510.2 362.98" clip-path="url(#hc4)" stroke-width="0.85" fill="none"/>
<path d="M466.9 358.4H490.6V394.0Q490.6 395.6 489 395.6H468.5Q466.9 395.6 466.9 394.0Z" fill="none" stroke-width="1.4"/>
<path d="M473.8 352.7L486.4 352.7L486.4 374.8L480.1 378.6L473.8 374.8Z" fill="#000" stroke-width="0.6" />
<path d="M457.4 380.9L465.8 372.5L474.2 380.9L465.8 389.3Z" fill="#fff" stroke-width="1.8" />
<circle cx="468.3" cy="364.0" r="4.3" fill="#fff" stroke-width="1.4"/>
<path d="M465.6 366L471 362" stroke-width="0.9"/>
<path d="M500.9 337L519.2 337L519.2 358.3L500.9 358.3Z" fill="#fff" stroke-width="1.3" />
<path d="M504.2 337L504.2 358.3" fill="none" stroke-width="0.8" />
<path d="M515.4 337L515.4 352.5" fill="none" stroke-width="0.9" />
<path d="M515.4 353.4L519.2 353.4L519.2 357.6L515.4 357.6Z" fill="none" stroke-width="0.9" />
<circle cx="510.6" cy="347.6" r="6.3" fill="#fff" stroke-width="1.6"/>
<path d="M506.7 358.8L519.3 358.8L519.3 337L542.9 337L542.9 363.7L541.3 365.5L508.3 365.5L506.7 363.7Z" fill="#fff" stroke-width="0" />
<clipPath id="hc5"><path d="M506.7 358.8L519.3 358.8L519.3 337L542.9 337L542.9 363.7L541.3 365.5L508.3 365.5L506.7 363.7Z"/></clipPath><path d="M528.15 313.18L562.73 346.57M524.05 317.42L558.63 350.82M519.95 321.67L554.53 355.06M515.85 325.91L550.43 359.31M511.76 330.16L546.34 363.55M507.66 334.4L542.24 367.79M503.56 338.65L538.14 372.04M499.46 342.89L534.04 376.28M495.36 347.13L529.94 380.53M491.26 351.38L525.84 384.77M487.16 355.62L521.74 389.02" clip-path="url(#hc5)" stroke-width="1.25" fill="none"/>
<path d="M506.7 358.8L519.3 358.8L519.3 337L542.9 337L542.9 363.7L541.3 365.5L508.3 365.5L506.7 363.7Z" fill="none" stroke-width="1.7" />
<path d="M698.7 350.8L696.6 348.8L670.8 348.8L668.4 351.2L668.4 372.6L675.4 380.9L668.4 389.2L668.4 398.6L698.7 398.6Z" fill="#fff" stroke-width="0" />
<clipPath id="hc6"><path d="M698.7 350.8L696.6 348.8L670.8 348.8L668.4 351.2L668.4 372.6L675.4 380.9L668.4 389.2L668.4 398.6L698.7 398.6Z"/></clipPath><path d="M686.79 326.95L730.16 368.83M682.69 331.19L726.06 373.07M678.59 335.43L721.97 377.32M674.5 339.68L717.87 381.56M670.4 343.92L713.77 385.81M666.3 348.17L709.67 390.05M662.2 352.41L705.57 394.29M658.1 356.65L701.47 398.54M654 360.9L697.37 402.78M649.9 365.14L693.28 407.03M645.81 369.39L689.18 411.27M641.71 373.63L685.08 415.51M637.61 377.88L680.98 419.76" clip-path="url(#hc6)" stroke-width="1.25" fill="none"/>
<path d="M698.7 350.8L696.6 348.8L670.8 348.8L668.4 351.2L668.4 372.6L675.4 380.9L668.4 389.2L668.4 398.6L698.7 398.6Z" fill="none" stroke-width="1.7" />
<path d="M690.8 349.4L679.7 349.4L679.7 367.6L685.2 371.6L690.8 367.6Z" fill="#000" stroke-width="0.6" />
<path d="M698.7 400.4L697.4 399.1L667.9 399.1L666.6 400.4L666.6 407.8L667.9 409.1L697.4 409.1L698.7 407.8Z" fill="#fff" stroke-width="0" />
<clipPath id="hc7"><path d="M698.7 400.4L697.4 399.1L667.9 399.1L666.6 400.4L666.6 407.8L667.9 409.1L697.4 409.1L698.7 407.8Z"/></clipPath><path d="M657.29 403.93L682.48 378.74M661.25 407.89L686.44 382.7M665.21 411.85L690.4 386.66M669.17 415.81L694.36 390.62M673.13 419.77L698.32 394.58M677.09 423.73L702.28 398.54M681.05 427.69L706.24 402.5M685.01 431.65L710.2 406.46" clip-path="url(#hc7)" stroke-width="1.25" fill="none"/>
<path d="M698.7 400.4L697.4 399.1L667.9 399.1L666.6 400.4L666.6 407.8L667.9 409.1L697.4 409.1L698.7 407.8Z" fill="none" stroke-width="1.5" />
<path d="M690.4 409.1L690.4 379.5L687.9 377.2L682.6 377.2L680.1 379.5L680.1 409.1Z" fill="#fff" stroke-width="0" />
<path d="M690.4 380.2L687.9 377.2L682.6 377.2L680.1 380.2L680.1 383.2L690.4 383.2Z" fill="#000" stroke-width="0.5" />
<path d="M689.7 409.1L689.7 380" fill="none" stroke-width="2.5" />
<path d="M680.8 409.1L680.8 380" fill="none" stroke-width="2.5" />
<path d="M683.8 404L687.8 383" stroke-width="0.8"/>
<path d="M682.2 408L685.6 390" stroke-width="0.8"/>
<path d="M695.4 409.3C695.4 415 691.94 417.3 685.5 417.3C679.07 417.3 675.6 415 675.6 409.3Z" fill="#fff" stroke-width="1.2"/>
<path d="M686.3 409.3L686.3 417" fill="none" stroke-width="0.9" />
<path d="M684.5 409.3L684.5 417" fill="none" stroke-width="0.9" />
<path d="M665.6 336.2L634 336.2L634 357L665.6 357Z" fill="#fff" stroke-width="0" />
<clipPath id="hc8"><path d="M665.6 336.2L634 336.2L634 357L665.6 357Z"/></clipPath><path d="M667.67 323.23L674.59 362.45M661.57 324.3L668.48 363.53M655.46 325.38L662.38 364.61M649.35 326.46L656.27 365.68M643.25 327.53L650.16 366.76M637.14 328.61L644.06 367.84M631.04 329.69L637.95 368.91M624.93 330.76L631.85 369.99" clip-path="url(#hc8)" stroke-width="1.2" fill="none"/>
<path d="M665.6 336.2L634 336.2L634 357L665.6 357Z" fill="none" stroke-width="1.6" />
<path d="M664.8 353.6L658.8 353.6L658.8 356.6L664.8 356.6Z" fill="#fff" stroke-width="0.9" />
<path d="M634.2 337L631.5 337L631.5 357.4L634.2 357.4Z" fill="#111" stroke-width="0.6" />
<path d="M667.4 357.3H630.9V397.2Q630.9 400.1 633.9 400.1H667.4" fill="#fff" stroke-width="2.0"/>
<clipPath id="hc9"><path d="M665.5 358.4H641.8V394.0Q641.8 395.6 643.4 395.6H663.9Q665.5 395.6 665.5 394.0Z"/></clipPath><path d="M622.98 391.28L637.23 347.42M628.5 393.07L642.74 349.22M634.01 394.86L648.26 351.01M639.53 396.65L653.78 352.8M645.04 398.44L659.29 354.59M650.56 400.24L664.81 356.39M656.08 402.03L670.33 358.18M661.59 403.82L675.84 359.97M667.11 405.61L681.36 361.76M672.63 407.41L686.87 363.55" clip-path="url(#hc9)" stroke-width="0.85" fill="none"/>
<path d="M665.5 358.4H641.8V394.0Q641.8 395.6 643.4 395.6H663.9Q665.5 395.6 665.5 394.0Z" fill="none" stroke-width="1.4"/>
<path d="M640.8 380.6L632.6 380.6" fill="none" stroke-width="1.0" />
<path d="M640.4 381L632.8 381L632.8 394.6L640.4 394.6Z" fill="none" stroke-width="0.9" />
<path d="M658.6 352.7L646 352.7L646 374.8L652.3 378.6L658.6 374.8Z" fill="#000" stroke-width="0.6" />
<path d="M675 380.9L666.6 372.5L658.2 380.9L666.6 389.3Z" fill="#fff" stroke-width="1.8" />
<circle cx="664.1" cy="364.0" r="4.3" fill="#fff" stroke-width="1.4"/>
<path d="M661.4 366L666.8 362" stroke-width="0.9"/>
<path d="M631.5 337L613.2 337L613.2 358.3L631.5 358.3Z" fill="#fff" stroke-width="1.3" />
<path d="M628.2 337L628.2 358.3" fill="none" stroke-width="0.8" />
<path d="M617 337L617 352.5" fill="none" stroke-width="0.9" />
<path d="M617 353.4L613.2 353.4L613.2 357.6L617 357.6Z" fill="none" stroke-width="0.9" />
<circle cx="621.8" cy="347.6" r="6.3" fill="#fff" stroke-width="1.6"/>
<path d="M625.7 358.8L613.1 358.8L613.1 337L589.5 337L589.5 363.7L591.1 365.5L624.1 365.5L625.7 363.7Z" fill="#fff" stroke-width="0" />
<clipPath id="hc10"><path d="M625.7 358.8L613.1 358.8L613.1 337L589.5 337L589.5 363.7L591.1 365.5L624.1 365.5L625.7 363.7Z"/></clipPath><path d="M607.88 316.36L642.46 349.75M603.78 320.6L638.36 354M599.68 324.85L634.26 358.24M595.58 329.09L630.17 362.48M591.49 333.33L626.07 366.73M587.39 337.58L621.97 370.97M583.29 341.82L617.87 375.22M579.19 346.07L613.77 379.46M575.09 350.31L609.67 383.71M570.99 354.56L605.57 387.95" clip-path="url(#hc10)" stroke-width="1.25" fill="none"/>
<path d="M625.7 358.8L613.1 358.8L613.1 337L589.5 337L589.5 363.7L591.1 365.5L624.1 365.5L625.7 363.7Z" fill="none" stroke-width="1.7" />
<path d="M466.2 336.4L666.2 336.4" stroke-width="1.8" />
<g stroke-width="1.25">
<path d="M544.0 337.4V349.7H550.6V339.6L548.8 337.4" fill="#fff"/>
<path d="M545.6 338V349.4" stroke="#888" stroke-width="1.0"/>
<path d="M550.8 338.3H565.2M583.6 338.3H589.2" stroke="#666" stroke-width="1.6"/>
<path d="M552.8 349.2H556.8" stroke-width="1.2"/>
<path d="M565.3 337.4V349.7H583.4V337.4" fill="#fff"/>
<path d="M567.3 338V349.4" stroke="#888" stroke-width="1.0"/>
<path d="M568.9 337.4V349.4" stroke-width="1.1"/>
<path d="M584.4 337.4V349.7H589.2" stroke-width="1.1"/>
</g>
<circle cx="557.6" cy="409.8" r="0.6" fill="#888" stroke="none"/>
</g>
<g stroke="#111" fill="none">
<path d="M466.6 256.6L466.6 336" stroke-width="0.95" />
<path d="M665.8 256.6L665.8 348.6" stroke-width="0.95" />
<path d="M466.6 259.8L665.8 259.8" stroke-width="0.95" /><path d="M466.6 259.8L474.6 261.3L474.6 258.3Z" fill="#000" stroke="none"/><path d="M665.8 259.8L657.8 258.3L657.8 261.3Z" fill="#000" stroke="none"/>
<path d="M543.5 304.2L543.5 337" stroke-width="0.95" />
<path d="M589.7 304.2L589.7 337" stroke-width="0.95" />
<path d="M543.5 307.8L589.7 307.8" stroke-width="0.95" /><path d="M543.5 307.8L551 308.9L551 306.7Z" fill="#000" stroke="none"/><path d="M589.7 307.8L582.2 306.7L582.2 308.9Z" fill="#000" stroke="none"/>
<path d="M465.4 409.2L465.4 471.8" stroke-width="0.95" />
<path d="M667.4 409.2L667.4 471.8" stroke-width="0.95" />
<path d="M465.4 468.4L667.4 468.4" stroke-width="0.95" /><path d="M465.4 468.4L473.4 469.9L473.4 466.9Z" fill="#000" stroke="none"/><path d="M667.4 468.4L659.4 466.9L659.4 469.9Z" fill="#000" stroke="none"/>
<path d="M434 409.2L434 520.8" stroke-width="0.95" />
<path d="M699.6 349L699.6 520.8" stroke-width="0.95" />
<path d="M434 517L699.6 517" stroke-width="0.95" /><path d="M434 517L442 518.5L442 515.5Z" fill="#000" stroke="none"/><path d="M699.6 517L691.6 515.5L691.6 518.5Z" fill="#000" stroke="none"/>
<path d="M665.8 335.7L770.6 335.7" stroke-width="0.95" />
<path d="M699.6 349L740.8 349" stroke-width="0.95" />
<path d="M606.3 408.4L770.6 408.4" stroke-width="0.95" />
<path d="M737 349L737 408.3" stroke-width="0.95" /><path d="M737 349L735.4 356.8L738.6 356.8Z" fill="#000" stroke="none"/><path d="M737 408.3L738.6 400.5L735.4 400.5Z" fill="#000" stroke="none"/>
<path d="M766.3 335.7L766.3 408.3" stroke-width="0.95" /><path d="M766.3 335.7L764.7 343.5L767.9 343.5Z" fill="#000" stroke="none"/><path d="M766.3 408.3L767.9 400.5L764.7 400.5Z" fill="#000" stroke="none"/>
<path d="M529.8 337L529.8 392.2" stroke-width="0.95" />
<path d="M529.8 337L528.05 344.4L531.55 344.4Z" fill="#000" stroke="none"/>
<path d="M529.8 365.5L531.55 358.1L528.05 358.1Z" fill="#000" stroke="none"/>
<path d="M610.1 365.5L610.1 409.2" stroke-width="0.95" />
<path d="M610.1 365.5L608.35 372.9L611.85 372.9Z" fill="#000" stroke="none"/>
<path d="M610.1 409.2L611.85 401.8L608.35 401.8Z" fill="#000" stroke="none"/>
<path d="M465.4 409.2L488.6 409.2" stroke-width="0.95" />
<path d="M483.9 376L483.9 450.6" stroke-width="0.95" />
<path d="M483.9 400L485.7 392.4L482.1 392.4Z" fill="#000" stroke="none"/>
<path d="M483.9 409.2L482.1 416.8L485.7 416.8Z" fill="#000" stroke="none"/>
</g>
<g fill="#111">
<text x="548.4" y="254" font-family="'Liberation Sans', sans-serif" font-size="16.8" textLength="9.1" lengthAdjust="spacingAndGlyphs" font-style="italic">Ø</text>
<text x="557.8" y="254" font-family="'Liberation Sans', sans-serif" font-size="16.8" textLength="11" lengthAdjust="spacingAndGlyphs" >30</text>
<text x="571.1" y="254" font-family="'Liberation Sans', sans-serif" font-size="16.8" textLength="11.8" lengthAdjust="spacingAndGlyphs" >h7</text>
<text x="550.9" y="302.9" font-family="'Liberation Sans', sans-serif" font-size="16.8" textLength="8.4" lengthAdjust="spacingAndGlyphs" font-style="italic">Ø</text>
<text x="560" y="302.9" font-family="'Liberation Sans', sans-serif" font-size="16.8" textLength="5.2" lengthAdjust="spacingAndGlyphs" >7</text>
<text x="567.4" y="302.9" font-family="'Liberation Sans', sans-serif" font-size="16.8" textLength="13.4" lengthAdjust="spacingAndGlyphs" >H7</text>
<text x="544.1" y="463.2" font-family="'Liberation Sans', sans-serif" font-size="16.8" textLength="8.3" lengthAdjust="spacingAndGlyphs" font-style="italic">Ø</text>
<text x="553" y="463.2" font-family="'Liberation Sans', sans-serif" font-size="16.8" textLength="20" lengthAdjust="spacingAndGlyphs" >30.6</text>
<text x="574.1" y="463.2" font-family="'Liberation Sans', sans-serif" font-size="16.8" textLength="14" lengthAdjust="spacingAndGlyphs" >H7</text>
<text x="547.8" y="511.2" font-family="'Liberation Sans', sans-serif" font-size="16.8" textLength="9.2" lengthAdjust="spacingAndGlyphs" font-style="italic">Ø</text>
<text x="557.5" y="511.2" font-family="'Liberation Sans', sans-serif" font-size="16.8" textLength="11.7" lengthAdjust="spacingAndGlyphs" >40</text>
<text x="571.9" y="511.2" font-family="'Liberation Sans', sans-serif" font-size="16.8" textLength="12.4" lengthAdjust="spacingAndGlyphs" >h7</text>
<g transform="translate(734.3 381.7) rotate(-90)"><text x="0" y="0" font-family="'Liberation Sans', sans-serif" font-size="17.2" textLength="6.3" lengthAdjust="spacingAndGlyphs" >9</text></g>
<g transform="translate(763.3 377.5) rotate(-90)"><text x="0" y="0" font-family="'Liberation Sans', sans-serif" font-size="16.6" textLength="10.2" lengthAdjust="spacingAndGlyphs" >11</text></g>
<g transform="translate(526.8 392.6) rotate(-90)"><text x="0" y="0" font-family="'Liberation Sans', sans-serif" font-size="16.8" textLength="13.6" lengthAdjust="spacingAndGlyphs" >4.3</text></g>
<g transform="translate(607.2 402.2) rotate(-90)"><text x="0" y="0" font-family="'Liberation Sans', sans-serif" font-size="14.6" textLength="16.2" lengthAdjust="spacingAndGlyphs" >6.55</text></g>
<g transform="translate(606.4 383.6) rotate(-90)"><text x="0" y="0" font-family="'Liberation Sans', sans-serif" font-size="10.4" textLength="11.8" lengthAdjust="spacingAndGlyphs" >±0.1</text></g>
<g transform="translate(480.9 450.2) rotate(-90)"><text x="0" y="0" font-family="'Liberation Sans', sans-serif" font-size="15.2" textLength="12.4" lengthAdjust="spacingAndGlyphs" >1.3</text></g>
</g>
<g stroke="#000" fill="none" stroke-linejoin="round" stroke-linecap="round">
<ellipse cx="164.5" cy="657.0" rx="3.2" ry="2.2" fill="#222" stroke="none" transform="rotate(40 164.5 657)"/>
<ellipse cx="197.11" cy="624.23" rx="77" ry="47.74" transform="rotate(27.9 197.11 624.23)" fill="#fff" stroke-width="2.0" />
<ellipse cx="198.33" cy="621.93" rx="77" ry="47.74" transform="rotate(27.9 198.33 621.93)" fill="#fff" stroke-width="1.1" />
<ellipse cx="199.27" cy="620.16" rx="73.8" ry="45.76" transform="rotate(27.9 199.27 620.16)" fill="#fff" stroke-width="1.2" />
<path d="M274.55 635.69L271.2 640.68L266.78 644.98L261.39 648.54L255.1 651.29L248.04 653.17L240.31 654.17L232.04 654.26L223.4 653.45L214.5 651.74L205.53 649.16L196.61 645.76L187.92 641.6L179.59 636.74L171.76 631.28L164.59 625.3L158.17 618.91L152.64 612.22L148.07 605.34L144.55 598.38L142.14 591.47L140.88 584.73L140.79 578.27L141.87 572.2L144.1 566.63L134.04 585.63L131.81 591.2L130.72 597.27L130.82 603.73L132.08 610.47L134.49 617.38L138.01 624.34L142.58 631.22L148.11 637.92L154.53 644.31L161.7 650.28L169.53 655.75L177.86 660.6L186.55 664.76L195.47 668.16L204.44 670.74L213.33 672.45L221.98 673.27L230.25 673.17L237.98 672.18L245.04 670.29L251.33 667.54L256.72 663.98L261.14 659.68L264.49 654.69Z" stroke-width="0" fill="#fff" stroke="none"/>
<path d="M274.55 635.69L264.49 654.69" stroke-width="1.3" fill="none" />
<path d="M144.1 566.63L134.04 585.63" stroke-width="1.3" fill="none" />
<ellipse cx="209.33" cy="601.16" rx="73.8" ry="45.76" transform="rotate(27.9 209.33 601.16)" fill="#fff" stroke-width="1.8" />
<path d="M256.6 650.74L254.78 651.4L252.89 651.99L250.95 652.52L248.95 652.99L246.91 653.38L244.81 653.71" stroke-width="2.6" fill="none" stroke="#fff" stroke-linecap="butt"/>
<path d="M252.86 657.81L251.03 658.47L249.15 659.06L247.21 659.59L245.21 660.06L243.16 660.45L241.07 660.78L234.82 652.84L236.88 652.55L238.89 652.18L240.83 651.73L242.72 651.21L244.54 650.61L246.3 649.95Z" stroke-width="1.1" fill="#fff" />
<path d="M250.04 642.88L248.29 643.54L246.46 644.14L244.58 644.66L242.63 645.11L240.62 645.48L238.57 645.77L234.82 652.84L236.88 652.55L238.89 652.18L240.83 651.73L242.72 651.21L244.54 650.61L246.3 649.95Z" stroke-width="1.1" fill="#fff" />
<path d="M256.6 650.74L250.04 642.88L246.3 649.95L252.86 657.81Z" stroke-width="1.3" fill="#fff" />
<path d="M244.81 653.71L238.57 645.77L234.82 652.84L241.07 660.78Z" stroke-width="1.3" fill="#fff" />
<ellipse cx="244.22" cy="655.91" rx="3.4" ry="2.11" transform="rotate(27.9 244.22 655.91)" fill="#fff" stroke-width="1.0" />
<path d="M207.56 649.82L205.09 649.01L202.62 648.14L200.16 647.21L197.71 646.23L195.28 645.18L192.87 644.07" stroke-width="2.6" fill="none" stroke="#fff" stroke-linecap="butt"/>
<path d="M203.82 656.89L201.34 656.08L198.88 655.21L196.42 654.28L193.97 653.3L191.54 652.25L189.12 651.14L190.73 644.14L193.07 645.23L195.44 646.27L197.82 647.23L200.22 648.13L202.62 648.96L205.03 649.73Z" stroke-width="1.1" fill="#fff" />
<path d="M208.77 642.66L206.36 641.89L203.96 641.06L201.56 640.16L199.18 639.2L196.82 638.16L194.47 637.07L190.73 644.14L193.07 645.23L195.44 646.27L197.82 647.23L200.22 648.13L202.62 648.96L205.03 649.73Z" stroke-width="1.1" fill="#fff" />
<path d="M207.56 649.82L208.77 642.66L205.03 649.73L203.82 656.89Z" stroke-width="1.3" fill="#fff" />
<path d="M192.87 644.07L194.47 637.07L190.73 644.14L189.12 651.14Z" stroke-width="1.3" fill="#fff" />
<ellipse cx="197.07" cy="650.98" rx="3.4" ry="2.11" transform="rotate(27.9 197.07 650.98)" fill="#fff" stroke-width="1.0" />
<path d="M159.55 620.39L157.88 618.59L156.28 616.77L154.74 614.93L153.27 613.07L151.88 611.19L150.56 609.3" stroke-width="2.6" fill="none" stroke="#fff" stroke-linecap="butt"/>
<path d="M155.81 627.46L154.14 625.66L152.53 623.84L151 622L149.53 620.14L148.14 618.26L146.82 616.37L155.34 614.4L156.59 616.24L157.93 618.08L159.35 619.89L160.86 621.68L162.43 623.45L164.09 625.2Z" stroke-width="1.1" fill="#fff" />
<path d="M167.83 618.13L166.18 616.38L164.6 614.61L163.1 612.82L161.68 611L160.34 609.17L159.08 607.33L155.34 614.4L156.59 616.24L157.93 618.08L159.35 619.89L160.86 621.68L162.43 623.45L164.09 625.2Z" stroke-width="1.1" fill="#fff" />
<path d="M159.55 620.39L167.83 618.13L164.09 625.2L155.81 627.46Z" stroke-width="1.3" fill="#fff" />
<path d="M150.56 609.3L159.08 607.33L155.34 614.4L146.82 616.37Z" stroke-width="1.3" fill="#fff" />
<ellipse cx="154.92" cy="621.01" rx="3.4" ry="2.11" transform="rotate(27.9 154.92 621.01)" fill="#fff" stroke-width="1.0" />
<path d="M140.7 579.7L140.81 577.96L141.01 576.25L141.29 574.57L141.67 572.93L142.13 571.32L142.68 569.76" stroke-width="2.6" fill="none" stroke="#fff" stroke-linecap="butt"/>
<path d="M136.96 586.77L137.07 585.03L137.27 583.32L137.55 581.65L137.93 580L138.39 578.39L138.94 576.83L149.38 581.05L148.81 582.56L148.34 584.12L147.97 585.72L147.7 587.35L147.52 589.03L147.45 590.73Z" stroke-width="1.1" fill="#fff" />
<path d="M151.19 583.66L151.27 581.96L151.44 580.28L151.71 578.65L152.08 577.05L152.55 575.49L153.12 573.98L149.38 581.05L148.81 582.56L148.34 584.12L147.97 585.72L147.7 587.35L147.52 589.03L147.45 590.73Z" stroke-width="1.1" fill="#fff" />
<path d="M140.7 579.7L151.19 583.66L147.45 590.73L136.96 586.77Z" stroke-width="1.3" fill="#fff" />
<path d="M142.68 569.76L153.12 573.98L149.38 581.05L138.94 576.83Z" stroke-width="1.3" fill="#fff" />
<ellipse cx="142.44" cy="583.55" rx="3.4" ry="2.11" transform="rotate(27.9 142.44 583.55)" fill="#fff" stroke-width="1.0" />
<path d="M162.05 551.58L163.88 550.92L165.76 550.33L167.7 549.8L169.7 549.33L171.75 548.94L173.84 548.61" stroke-width="2.6" fill="none" stroke="#fff" stroke-linecap="butt"/>
<path d="M158.31 558.65L160.13 557.99L162.02 557.4L163.96 556.87L165.95 556.4L168 556.01L170.1 555.68L176.34 563.62L174.28 563.92L172.28 564.29L170.33 564.73L168.45 565.25L166.62 565.85L164.87 566.52Z" stroke-width="1.1" fill="#fff" />
<path d="M168.61 559.44L170.37 558.78L172.19 558.18L174.08 557.66L176.02 557.22L178.03 556.85L180.09 556.55L176.34 563.62L174.28 563.92L172.28 564.29L170.33 564.73L168.45 565.25L166.62 565.85L164.87 566.52Z" stroke-width="1.1" fill="#fff" />
<path d="M162.05 551.58L168.61 559.44L164.87 566.52L158.31 558.65Z" stroke-width="1.3" fill="#fff" />
<path d="M173.84 548.61L180.09 556.55L176.34 563.62L170.1 555.68Z" stroke-width="1.3" fill="#fff" />
<ellipse cx="166.95" cy="560.56" rx="3.4" ry="2.11" transform="rotate(27.9 166.95 560.56)" fill="#fff" stroke-width="1.0" />
<path d="M211.09 552.51L213.57 553.31L216.03 554.18L218.49 555.11L220.94 556.1L223.37 557.14L225.79 558.25" stroke-width="2.6" fill="none" stroke="#fff" stroke-linecap="butt"/>
<path d="M207.35 559.58L209.82 560.38L212.29 561.25L214.75 562.18L217.2 563.17L219.63 564.21L222.04 565.32L220.44 572.32L218.09 571.23L215.73 570.2L213.35 569.23L210.95 568.33L208.54 567.5L206.13 566.74Z" stroke-width="1.1" fill="#fff" />
<path d="M209.88 559.67L212.29 560.43L214.69 561.26L217.09 562.16L219.47 563.13L221.84 564.16L224.18 565.25L220.44 572.32L218.09 571.23L215.73 570.2L213.35 569.23L210.95 568.33L208.54 567.5L206.13 566.74Z" stroke-width="1.1" fill="#fff" />
<path d="M211.09 552.51L209.88 559.67L206.13 566.74L207.35 559.58Z" stroke-width="1.3" fill="#fff" />
<path d="M225.79 558.25L224.18 565.25L220.44 572.32L222.04 565.32Z" stroke-width="1.3" fill="#fff" />
<ellipse cx="214.09" cy="565.48" rx="3.4" ry="2.11" transform="rotate(27.9 214.09 565.48)" fill="#fff" stroke-width="1.0" />
<path d="M259.1 581.93L260.77 583.73L262.38 585.55L263.91 587.39L265.38 589.26L266.77 591.13L268.09 593.02" stroke-width="2.6" fill="none" stroke="#fff" stroke-linecap="butt"/>
<path d="M255.36 589L257.03 590.8L258.63 592.62L260.17 594.46L261.64 596.33L263.03 598.2L264.35 600.09L255.83 602.06L254.57 600.22L253.23 598.39L251.81 596.57L250.31 594.78L248.73 593.01L247.08 591.26Z" stroke-width="1.1" fill="#fff" />
<path d="M250.82 584.19L252.48 585.94L254.05 587.71L255.56 589.5L256.98 591.32L258.32 593.15L259.57 594.99L255.83 602.06L254.57 600.22L253.23 598.39L251.81 596.57L250.31 594.78L248.73 593.01L247.08 591.26Z" stroke-width="1.1" fill="#fff" />
<path d="M259.1 581.93L250.82 584.19L247.08 591.26L255.36 589Z" stroke-width="1.3" fill="#fff" />
<path d="M268.09 593.02L259.57 594.99L255.83 602.06L264.35 600.09Z" stroke-width="1.3" fill="#fff" />
<ellipse cx="256.25" cy="595.45" rx="3.4" ry="2.11" transform="rotate(27.9 256.25 595.45)" fill="#fff" stroke-width="1.0" />
<path d="M277.95 622.62L277.84 624.36L277.64 626.07L277.36 627.75L276.98 629.39L276.52 631L275.97 632.56" stroke-width="2.6" fill="none" stroke="#fff" stroke-linecap="butt"/>
<path d="M274.21 629.69L274.1 631.43L273.9 633.14L273.61 634.82L273.24 636.46L272.78 638.07L272.23 639.63L261.79 635.41L262.36 633.9L262.83 632.34L263.2 630.75L263.47 629.11L263.64 627.44L263.72 625.73Z" stroke-width="1.1" fill="#fff" />
<path d="M267.46 618.66L267.39 620.37L267.21 622.04L266.94 623.68L266.57 625.27L266.1 626.83L265.53 628.34L261.79 635.41L262.36 633.9L262.83 632.34L263.2 630.75L263.47 629.11L263.64 627.44L263.72 625.73Z" stroke-width="1.1" fill="#fff" />
<path d="M277.95 622.62L267.46 618.66L263.72 625.73L274.21 629.69Z" stroke-width="1.3" fill="#fff" />
<path d="M275.97 632.56L265.53 628.34L261.79 635.41L272.23 639.63Z" stroke-width="1.3" fill="#fff" />
<ellipse cx="268.73" cy="632.91" rx="3.4" ry="2.11" transform="rotate(27.9 268.73 632.91)" fill="#fff" stroke-width="1.0" />
<ellipse cx="263.85" cy="639.92" rx="3.9" ry="2.42" transform="rotate(27.9 263.85 639.92)" fill="#000" stroke-width="0.5" />
<ellipse cx="225.46" cy="649.6" rx="3.9" ry="2.42" transform="rotate(27.9 225.46 649.6)" fill="#000" stroke-width="0.5" />
<ellipse cx="177.63" cy="630.9" rx="3.9" ry="2.42" transform="rotate(27.9 177.63 630.9)" fill="#000" stroke-width="0.5" />
<ellipse cx="148.36" cy="594.79" rx="3.9" ry="2.42" transform="rotate(27.9 148.36 594.79)" fill="#000" stroke-width="0.5" />
<ellipse cx="154.81" cy="562.4" rx="3.9" ry="2.42" transform="rotate(27.9 154.81 562.4)" fill="#000" stroke-width="0.5" />
<ellipse cx="193.19" cy="552.73" rx="3.9" ry="2.42" transform="rotate(27.9 193.19 552.73)" fill="#000" stroke-width="0.5" />
<ellipse cx="241.02" cy="571.42" rx="3.9" ry="2.42" transform="rotate(27.9 241.02 571.42)" fill="#000" stroke-width="0.5" />
<ellipse cx="270.29" cy="607.53" rx="3.9" ry="2.42" transform="rotate(27.9 270.29 607.53)" fill="#000" stroke-width="0.5" />
<ellipse cx="209.33" cy="601.16" rx="61.5" ry="38.13" transform="rotate(27.9 209.33 601.16)" fill="#fff" stroke-width="1.3" />
<ellipse cx="210.26" cy="599.39" rx="59" ry="36.58" transform="rotate(27.9 210.26 599.39)" fill="#fff" stroke-width="2.3" />
<ellipse cx="211.2" cy="597.63" rx="57.2" ry="35.46" transform="rotate(27.9 211.2 597.63)" fill="#fff" stroke-width="1.2" />
<ellipse cx="211.9" cy="596.3" rx="55.8" ry="34.6" transform="rotate(27.9 211.9 596.3)" fill="#fff" stroke-width="1.3" />
<ellipse cx="245.57" cy="632.71" rx="7" ry="5" transform="rotate(27.9 245.57 632.71)" fill="#fff" stroke-width="1.2" />
<ellipse cx="244.78" cy="633.26" rx="5" ry="3.6" transform="rotate(27.9 244.78 633.26)" fill="#000" stroke-width="1.0" />
<ellipse cx="245.2" cy="632.47" rx="2.6" ry="1.9" transform="rotate(27.9 245.2 632.47)" fill="#fff" stroke-width="0.6" />
<ellipse cx="175.87" cy="611.18" rx="7" ry="5" transform="rotate(27.9 175.87 611.18)" fill="#fff" stroke-width="1.2" />
<ellipse cx="175.73" cy="611.93" rx="5" ry="3.6" transform="rotate(27.9 175.73 611.93)" fill="#000" stroke-width="1.0" />
<ellipse cx="176.15" cy="611.14" rx="2.6" ry="1.9" transform="rotate(27.9 176.15 611.14)" fill="#fff" stroke-width="0.6" />
<ellipse cx="177.29" cy="561.65" rx="7" ry="5" transform="rotate(27.9 177.29 561.65)" fill="#fff" stroke-width="1.2" />
<ellipse cx="177.15" cy="562.87" rx="5" ry="3.6" transform="rotate(27.9 177.15 562.87)" fill="#000" stroke-width="1.0" />
<ellipse cx="177.57" cy="562.08" rx="2.6" ry="1.9" transform="rotate(27.9 177.57 562.08)" fill="#fff" stroke-width="0.6" />
<ellipse cx="247" cy="583.19" rx="7" ry="5" transform="rotate(27.9 247 583.19)" fill="#fff" stroke-width="1.2" />
<ellipse cx="246.19" cy="584.2" rx="5" ry="3.6" transform="rotate(27.9 246.19 584.2)" fill="#000" stroke-width="1.0" />
<ellipse cx="246.62" cy="583.41" rx="2.6" ry="1.9" transform="rotate(27.9 246.62 583.41)" fill="#fff" stroke-width="0.6" />
<ellipse cx="250.9" cy="624.02" rx="3.4" ry="2.11" transform="rotate(27.9 250.9 624.02)" fill="#fff" stroke-width="1.0" />
<path d="M249.5 623.52L252.3 624.52" stroke-width="0.6" fill="none" />
<ellipse cx="223.44" cy="630.95" rx="3.4" ry="2.11" transform="rotate(27.9 223.44 630.95)" fill="#fff" stroke-width="1.0" />
<path d="M222.04 630.45L224.84 631.45" stroke-width="0.6" fill="none" />
<ellipse cx="189.23" cy="617.58" rx="3.4" ry="2.11" transform="rotate(27.9 189.23 617.58)" fill="#fff" stroke-width="1.0" />
<path d="M187.83 617.08L190.63 618.08" stroke-width="0.6" fill="none" />
<ellipse cx="168.29" cy="591.74" rx="3.4" ry="2.11" transform="rotate(27.9 168.29 591.74)" fill="#fff" stroke-width="1.0" />
<path d="M166.89 591.24L169.69 592.24" stroke-width="0.6" fill="none" />
<ellipse cx="172.9" cy="568.58" rx="3.4" ry="2.11" transform="rotate(27.9 172.9 568.58)" fill="#fff" stroke-width="1.0" />
<path d="M171.5 568.08L174.3 569.08" stroke-width="0.6" fill="none" />
<ellipse cx="200.36" cy="561.65" rx="3.4" ry="2.11" transform="rotate(27.9 200.36 561.65)" fill="#fff" stroke-width="1.0" />
<path d="M198.96 561.15L201.76 562.15" stroke-width="0.6" fill="none" />
<ellipse cx="234.57" cy="575.02" rx="3.4" ry="2.11" transform="rotate(27.9 234.57 575.02)" fill="#fff" stroke-width="1.0" />
<path d="M233.17 574.52L235.97 575.52" stroke-width="0.6" fill="none" />
<ellipse cx="255.51" cy="600.86" rx="3.4" ry="2.11" transform="rotate(27.9 255.51 600.86)" fill="#fff" stroke-width="1.0" />
<path d="M254.11 600.36L256.91 601.36" stroke-width="0.6" fill="none" />
<ellipse cx="211.9" cy="596.3" rx="38" ry="23.56" transform="rotate(27.9 211.9 596.3)" fill="#fff" stroke-width="3.0" />
<ellipse cx="211.9" cy="596.3" rx="34.4" ry="21.33" transform="rotate(27.9 211.9 596.3)" fill="none" stroke-width="1.0" />
<ellipse cx="211.9" cy="596.3" rx="31.2" ry="19.34" transform="rotate(27.9 211.9 596.3)" fill="none" stroke-width="3.4" />
<ellipse cx="211.9" cy="596.3" rx="31.2" ry="19.34" transform="rotate(27.9 211.9 596.3)" fill="none" stroke-width="1.9" stroke="#fff" stroke-dasharray="4.4 2.2 2 2.2" stroke-linecap="butt"/>
<ellipse cx="211.9" cy="596.3" rx="27" ry="16.74" transform="rotate(27.9 211.9 596.3)" fill="#fff" stroke-width="2.2" />
<ellipse cx="211.9" cy="596.3" rx="24.6" ry="15.25" transform="rotate(27.9 211.9 596.3)" fill="none" stroke-width="0.7" />
<ellipse cx="221.94" cy="608.86" rx="5.4" ry="4" transform="rotate(27.9 221.94 608.86)" fill="#fff" stroke-width="1.5" />
<ellipse cx="221" cy="608.87" rx="3.2" ry="2.3" transform="rotate(27.9 221 608.87)" fill="#fff" stroke-width="0.8" />
<ellipse cx="198.5" cy="599.55" rx="5.4" ry="4" transform="rotate(27.9 198.5 599.55)" fill="#fff" stroke-width="1.5" />
<ellipse cx="198.87" cy="600.07" rx="3.2" ry="2.3" transform="rotate(27.9 198.87 600.07)" fill="#fff" stroke-width="0.8" />
<ellipse cx="201.86" cy="583.74" rx="5.4" ry="4" transform="rotate(27.9 201.86 583.74)" fill="#fff" stroke-width="1.5" />
<ellipse cx="202.05" cy="585.15" rx="3.2" ry="2.3" transform="rotate(27.9 202.05 585.15)" fill="#fff" stroke-width="0.8" />
<ellipse cx="225.3" cy="593.05" rx="5.4" ry="4" transform="rotate(27.9 225.3 593.05)" fill="#fff" stroke-width="1.5" />
<ellipse cx="224.18" cy="593.94" rx="3.2" ry="2.3" transform="rotate(27.9 224.18 593.94)" fill="#fff" stroke-width="0.8" />
<ellipse cx="209.44" cy="607.85" rx="4.2" ry="3.1" transform="rotate(27.9 209.44 607.85)" fill="#000" stroke-width="0.6" />
<ellipse cx="194.77" cy="589.5" rx="4.2" ry="3.1" transform="rotate(27.9 194.77 589.5)" fill="#000" stroke-width="0.6" />
<ellipse cx="214.36" cy="584.75" rx="4.2" ry="3.1" transform="rotate(27.9 214.36 584.75)" fill="#000" stroke-width="0.6" />
<ellipse cx="229.03" cy="603.1" rx="4.2" ry="3.1" transform="rotate(27.9 229.03 603.1)" fill="#000" stroke-width="0.6" />
<path d="M218.85 602.26L212.18 602.71L206.44 599.67L203.07 593.9L204.95 590.34L211.62 589.89L217.36 592.93L220.73 598.7Z" stroke-width="1.8" fill="#fff" />
<path d="M213.48 602.38L205.98 598.41L208.45 593.76L215.94 597.73Z" stroke-width="0.9" fill="none" />
</g>
</svg>
</body>
</html>
